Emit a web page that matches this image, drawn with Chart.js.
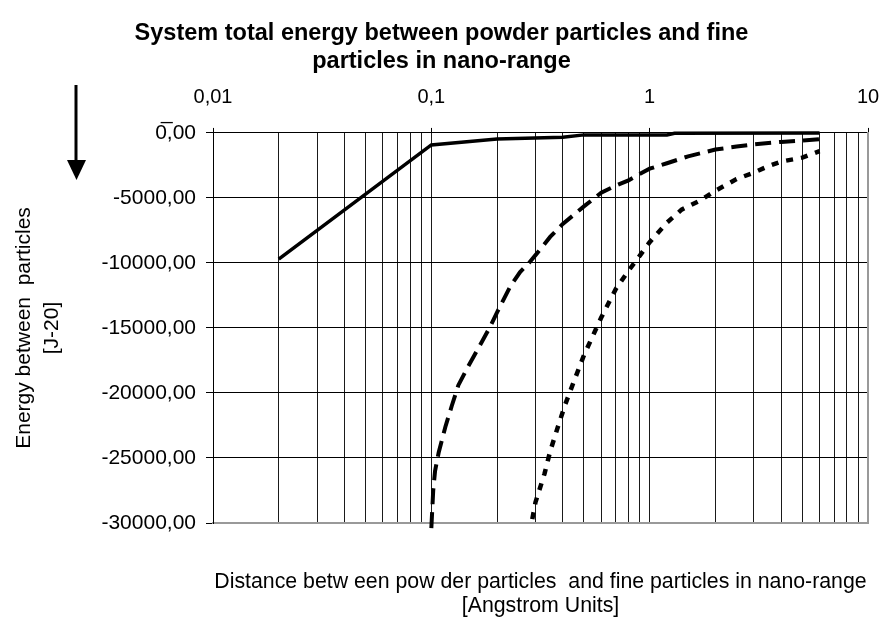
<!DOCTYPE html>
<html><head><meta charset="utf-8">
<script src="https://cdn.jsdelivr.net/npm/chart.js@4.4.1/dist/chart.umd.min.js"></script>
<style>html,body{margin:0;padding:0;background:#fff;} #wrap{width:883px;height:623px;}</style>
</head><body><div id="wrap"><canvas id="c" width="883" height="623"></canvas></div>
<script>
// ---- data ----
const titleLines = ['System total energy between powder particles and fine', 'particles in nano-range'];
const xTitleLines = ['Distance betw een pow der particles  and fine particles in nano-range', '[Angstrom Units]'];
const yTitleLines = ['Energy between  particles', '[J-20]'];

const xMajorTicks = [0.01, 0.1, 1, 10];
const xMinorMultipliers = [2, 3, 4, 5, 6, 7, 8, 9];
const yTicks = [0, -5000, -10000, -15000, -20000, -25000, -30000];

const solidX = [0.02, 0.1, 0.2, 0.4, 0.5, 1.2, 1.3, 6];
const solidY = [-9700, -920, -460, -330, -150, -150, -20, -10];

const dashX = [0.1, 0.102, 0.104, 0.108, 0.116, 0.124, 0.133, 0.147, 0.17, 0.186, 0.2, 0.23, 0.255, 0.28, 0.3, 0.35, 0.4, 0.5, 0.6, 0.7, 0.8, 0.9, 1.0, 1.2, 1.5, 2, 2.5, 3, 4, 5, 6];
const dashY = [-30400, -27500, -26000, -24600, -22600, -21000, -19400, -18000, -16100, -14900, -13800, -11800, -10700, -10000, -9400, -8000, -7000, -5650, -4600, -4050, -3650, -3150, -2750, -2330, -1800, -1280, -1050, -880, -690, -580, -490];

const dotX = [0.29, 0.3, 0.33, 0.35, 0.38, 0.41, 0.45, 0.5, 0.6, 0.7, 0.8, 0.9, 1.0, 1.2, 1.4, 1.7, 2.0, 2.5, 3.0, 3.5, 4.0, 5.0, 6.0];
const dotY = [-29700, -28400, -26200, -24500, -22600, -20900, -19100, -17100, -14200, -12000, -10600, -9450, -8400, -6900, -5900, -5200, -4450, -3550, -3050, -2550, -2200, -1900, -1400];

// ---- helpers ----
const pts = (xs, ys) => xs.map((x, i) => ({x: x, y: ys[i]}));
const isMajor = v => xMajorTicks.some(m => Math.abs(m - v) / m < 1e-9);
const xAllTicks = [];
xMajorTicks.forEach((m, i) => {
  xAllTicks.push(m);
  if (i < xMajorTicks.length - 1) xMinorMultipliers.forEach(k => xAllTicks.push(+(m * k).toPrecision(6)));
});
const FONT = "'Liberation Sans', Arial, sans-serif";
Chart.defaults.font.family = FONT;
Chart.defaults.color = '#000';

const arrowPlugin = {
  id: 'arrow',
  afterDraw(chart) {
    const ctx = chart.ctx;
    ctx.save();
    ctx.strokeStyle = '#000';
    ctx.lineWidth = 3;
    ctx.beginPath(); ctx.moveTo(76, 85); ctx.lineTo(76, 164); ctx.stroke();
    ctx.fillStyle = '#000';
    ctx.beginPath(); ctx.moveTo(67, 160); ctx.lineTo(86, 160); ctx.lineTo(76.5, 180); ctx.closePath(); ctx.fill();
    ctx.restore();
  }
};

new Chart(document.getElementById('c'), {
  type: 'line',
  data: {
    datasets: [
      {label: 'a', data: pts(solidX, solidY), borderColor: '#000', borderWidth: 3.5, pointRadius: 0, tension: 0, clip: false, borderCapStyle: 'butt'},
      {label: 'b', data: pts(dashX, dashY), borderColor: '#000', borderWidth: 4, borderDash: [16, 8], pointRadius: 0, tension: 0, clip: false, borderCapStyle: 'butt'},
      {label: 'c', data: pts(dotX, dotY), borderColor: '#000', borderWidth: 4.5, borderDash: [7, 8], pointRadius: 0, tension: 0, clip: false, borderCapStyle: 'butt'}
    ]
  },
  options: {
    responsive: false,
    animation: false,
    devicePixelRatio: 1,
    layout: {padding: 0},
    plugins: {
      legend: {display: false},
      tooltip: {enabled: false},
      title: {
        display: true, text: titleLines, color: '#000',
        font: {family: FONT, size: 23.5, weight: 'bold', lineHeight: 1.19},
        padding: {top: 20, bottom: 0}
      }
    },
    scales: {
      x: {
        type: 'logarithmic', position: 'top', min: 0.01, max: 10,
        afterBuildTicks: s => { s.ticks = xAllTicks.map(v => ({value: v})); },
        afterFit: s => { s.height = 57; s.paddingLeft = 0; s.paddingRight = 0; },
        ticks: {
          autoSkip: false, maxRotation: 0, padding: 18, color: '#000',
          font: {family: FONT, size: 20},
          callback: v => isMajor(v) ? String(v).replace('.', ',') : ''
        },
        grid: {
          color: c => (c.tick && Math.abs(c.tick.value - 10) < 1e-9) ? 'rgba(0,0,0,0)' : '#1a1a1a',
          tickColor: c => (c.tick && isMajor(c.tick.value)) ? '#000' : 'rgba(0,0,0,0)',
          tickLength: 5, lineWidth: 1
        },
        border: {display: true, color: '#000', width: 1}
      },
      x2: {
        type: 'logarithmic', position: 'bottom', min: 0.01, max: 10,
        afterFit: s => { s.height = 100; s.paddingLeft = 0; s.paddingRight = 0; },
        ticks: {display: false},
        grid: {display: false},
        border: {display: true, color: '#999', width: 2},
        title: {
          display: true, text: xTitleLines, color: '#000',
          font: {family: FONT, size: 21.3, lineHeight: 1.13},
          padding: {top: 0, bottom: 5}
        }
      },
      y: {
        type: 'linear', position: 'left', min: -30000, max: 0,
        afterBuildTicks: s => { s.ticks = yTicks.map(v => ({value: v})); },
        afterFit: s => { s.width = 213; },
        ticks: {
          padding: 10, color: '#000', font: {family: FONT, size: 21},
          callback: v => v === 0 ? '0\u0305,00' : v.toFixed(2).replace('.', ',')
        },
        grid: {
          color: c => (c.tick && c.tick.value === -30000) ? 'rgba(0,0,0,0)' : '#000',
          tickColor: '#000', tickLength: 7, lineWidth: 1
        },
        border: {display: true, color: '#000', width: 1},
        title: {
          display: true, text: yTitleLines, color: '#000',
          font: {family: FONT, size: 21, lineHeight: 1.33},
          padding: {top: 10, bottom: 0}
        }
      },
      y2: {
        type: 'linear', position: 'right', min: -30000, max: 0,
        afterFit: s => { s.width = 15; },
        ticks: {display: false},
        grid: {display: false},
        border: {display: true, color: '#999', width: 2}
      }
    }
  },
  plugins: [arrowPlugin]
});
</script>
</body></html>
